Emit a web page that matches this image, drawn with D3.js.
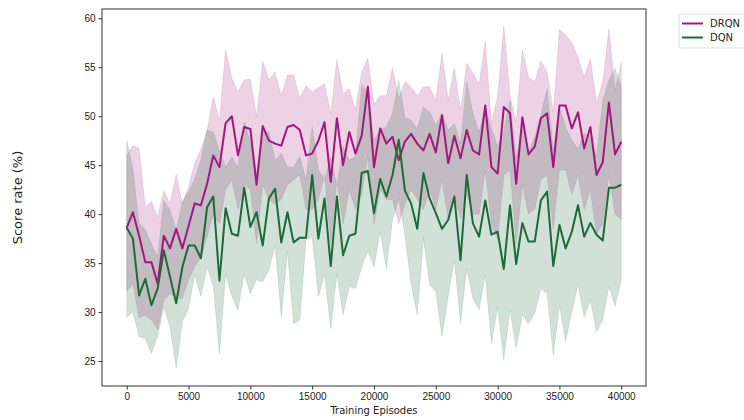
<!DOCTYPE html>
<html>
<head>
<meta charset="utf-8">
<script src="https://cdn.jsdelivr.net/npm/d3@7"></script>
<style>
	body { margin: 0; background: #fff; }
	svg { display: block; font-family: 'DejaVu Sans', sans-serif; }
</style>
</head>
<body>
<svg id="chart" width="744" height="420"></svg>
<script>
// episodes, every 500 steps
const episodes = d3.range(0, 40001, 500)

const drqnMean = [38.6, 40.2, 37.8, 35.1, 35.1, 32.9, 37.8, 36.5, 38.5, 36.5, 38.8, 41.1, 40.9, 43.1, 46.0, 44.8, 49.3, 50.0, 46.0, 48.9, 48.7, 43.0, 49.0, 47.5, 47.2, 47.0, 48.9, 49.1, 48.6, 46.0, 46.2, 47.5, 49.4, 43.3, 49.8, 45.0, 48.4, 46.2, 48.0, 53.0, 44.8, 48.75, 47.2, 47.9, 45.5, 47.4, 48.2, 47.2, 46.5, 48.2, 46.3, 50.1, 45.2, 48.0, 45.7, 48.6, 46.5, 46.1, 51.1, 44.8, 44.15, 50.95, 50.3, 43.1, 49.9, 46.1, 46.9, 49.8, 50.3, 44.8, 51.1, 51.1, 48.75, 50.4, 46.7, 48.9, 44.0, 45.3, 51.4, 46.1, 47.4]
const drqnUpper = [46.0, 47.0, 46.7, 40.7, 41.3, 39.7, 42.4, 41.1, 44.1, 41.0, 42.8, 45.2, 46.6, 48.5, 52.0, 49.6, 56.8, 53.9, 52.5, 53.7, 53.8, 49.9, 55.6, 53.7, 54.5, 52.1, 54.2, 54.2, 51.8, 53.1, 52.5, 52.9, 53.3, 50.3, 55.8, 52.3, 52.8, 50.6, 54.5, 55.9, 51.2, 52.1, 52.1, 54.9, 51.8, 53.5, 53.0, 52.1, 53.0, 53.0, 51.6, 56.4, 51.6, 54.9, 50.6, 55.4, 54.4, 53.3, 57.6, 49.3, 52.0, 59.2, 52.1, 49.4, 56.8, 54.0, 53.5, 55.7, 54.5, 50.4, 58.85, 58.3, 57.5, 56.0, 54.0, 55.9, 51.3, 53.5, 58.9, 52.6, 55.5]
const drqnLower = [32.1, 32.9, 29.4, 29.7, 29.2, 28.2, 31.2, 31.9, 31.4, 31.4, 33.3, 34.6, 35.6, 37.7, 40.0, 39.0, 42.5, 43.5, 40.5, 43.0, 42.5, 37.0, 43.0, 41.5, 41.0, 41.5, 43.0, 43.5, 44.0, 40.5, 40.5, 41.5, 44.0, 37.0, 43.5, 39.0, 42.5, 40.5, 42.0, 46.0, 39.0, 42.5, 41.5, 41.5, 39.0, 41.0, 42.5, 41.5, 40.5, 42.5, 40.5, 43.5, 39.5, 42.0, 39.5, 42.0, 40.0, 40.0, 44.5, 39.0, 37.5, 44.0, 44.5, 37.0, 43.0, 40.0, 40.5, 43.5, 44.0, 38.5, 44.5, 44.5, 42.0, 44.0, 40.5, 42.5, 38.0, 39.0, 44.0, 40.0, 39.5]

const dqnMean = [38.6, 37.5, 31.7, 33.4, 30.7, 32.4, 36.3, 33.6, 30.9, 34.6, 36.8, 36.8, 35.5, 40.7, 41.8, 33.2, 40.6, 38.0, 37.8, 42.7, 38.7, 40.2, 36.8, 41.6, 42.6, 37.1, 40.2, 37.1, 37.6, 37.6, 44.0, 37.5, 41.6, 34.7, 41.8, 35.8, 37.8, 38.0, 44.2, 44.4, 40.1, 43.6, 41.8, 44.0, 47.6, 42.4, 41.1, 38.5, 44.2, 41.6, 40.1, 38.5, 39.4, 41.8, 35.3, 44.0, 39.05, 37.7, 41.4, 37.9, 38.2, 34.4, 40.9, 34.9, 39.1, 37.2, 37.2, 41.4, 42.3, 34.7, 38.9, 36.5, 38.2, 40.9, 37.7, 39.1, 37.9, 37.3, 42.7, 42.7, 43.0]
const dqnUpper = [47.55, 44.5, 39.05, 38.4, 37.0, 35.6, 41.4, 40.4, 38.4, 41.3, 42.3, 43.6, 45.5, 48.6, 48.4, 46.5, 44.8, 45.85, 44.8, 49.4, 47.4, 44.15, 48.4, 48.4, 45.5, 46.2, 44.8, 44.8, 45.85, 43.5, 48.9, 44.5, 43.5, 45.85, 42.8, 46.9, 45.5, 45.85, 53.2, 52.5, 47.55, 48.6, 48.9, 50.3, 53.7, 49.9, 49.6, 48.75, 50.95, 50.4, 49.1, 50.3, 48.6, 49.25, 47.2, 53.5, 50.3, 48.4, 50.8, 48.75, 46.9, 48.6, 51.6, 45.7, 48.9, 46.4, 47.9, 50.1, 52.8, 46.5, 50.95, 48.9, 47.55, 46.7, 48.2, 47.9, 45.85, 51.6, 53.7, 54.9, 53.0]
const dqnLower = [29.5, 30.0, 27.5, 27.3, 25.8, 27.5, 30.5, 28.5, 24.25, 29.0, 30.4, 33.8, 31.6, 34.6, 32.6, 25.8, 33.9, 31.6, 30.2, 33.9, 31.9, 33.3, 33.1, 34.3, 36.8, 29.5, 36.2, 28.8, 29.2, 37.3, 37.7, 31.6, 33.9, 28.3, 33.9, 29.7, 32.6, 32.4, 34.6, 36.2, 34.6, 38.2, 34.4, 39.4, 41.6, 37.9, 32.9, 29.7, 37.5, 32.8, 32.1, 27.5, 31.6, 35.3, 28.8, 34.4, 31.4, 30.2, 33.8, 26.8, 30.5, 25.1, 30.2, 26.3, 29.7, 28.8, 29.9, 32.4, 31.9, 25.6, 30.7, 27.0, 30.0, 32.8, 29.5, 31.2, 28.0, 29.2, 32.6, 30.6, 33.3]

const seriesNames = ['DRQN', 'DQN']
const seriesColors = ['#a3177d', '#1b6b36']
const xTicks = d3.range(0, 40001, 5000)
const yTicks = [25, 30, 35, 40, 45, 50, 55, 60]

const series = [
	{ name: seriesNames[0], color: seriesColors[0], mean: drqnMean, upper: drqnUpper, lower: drqnLower },
	{ name: seriesNames[1], color: seriesColors[1], mean: dqnMean, upper: dqnUpper, lower: dqnLower }
]

const margin = { top: 9, right: 98, bottom: 34, left: 102 }
const width = 744 - margin.left - margin.right
const height = 420 - margin.top - margin.bottom

const svg = d3.select('#chart')
const g = svg
	.append('g')
	.attr('transform', 'translate(' + margin.left + ',' + margin.top + ')')

const x = d3.scaleLinear().domain([-2000, 42000]).range([0, width])
const y = d3.scaleLinear().domain([22.45, 60.95]).range([height, 0])

// bands first, then lines on top
series.forEach(s => {
	const area = d3
		.area()
		.x((d, i) => x(episodes[i]))
		.y0((d, i) => y(s.lower[i]))
		.y1((d, i) => y(s.upper[i]))
	g.append('path')
		.datum(s.mean)
		.attr('d', area)
		.attr('fill', s.color)
		.attr('fill-opacity', 0.2)
		.attr('stroke', s.color)
		.attr('stroke-opacity', 0.12)
		.attr('stroke-width', 1)
})

series.forEach(s => {
	const line = d3
		.line()
		.x((d, i) => x(episodes[i]))
		.y(d => y(d))
	g.append('path')
		.datum(s.mean)
		.attr('d', line)
		.attr('fill', 'none')
		.attr('stroke', s.color)
		.attr('stroke-width', 2)
		.attr('stroke-linejoin', 'round')
})

// axes
const xAxis = g
	.append('g')
	.attr('transform', 'translate(0,' + height + ')')
	.call(d3.axisBottom(x).tickValues(xTicks).tickSize(3.5).tickPadding(3).tickFormat(d3.format('d')))
const yAxis = g
	.append('g')
	.call(d3.axisLeft(y).tickValues(yTicks).tickSize(3.5).tickPadding(3))

;[xAxis, yAxis].forEach(a => {
	a.select('.domain').remove()
	a.selectAll('text').attr('font-size', 10).attr('fill', '#222')
	a.selectAll('line').attr('stroke', '#333')
})

g.append('rect')
	.attr('width', width)
	.attr('height', height)
	.attr('fill', 'none')
	.attr('stroke', '#333')
	.attr('stroke-width', 1)

svg.append('text')
	.attr('x', margin.left + width / 2)
	.attr('y', 414)
	.attr('text-anchor', 'middle')
	.attr('font-size', 10)
	.attr('fill', '#222')
	.text('Training Episodes')

svg.append('text')
	.attr('transform', 'translate(22,' + (margin.top + height / 2) + ') rotate(-90)')
	.attr('text-anchor', 'middle')
	.attr('font-size', 13)
	.attr('fill', '#222')
	.text('Score rate (%)')

// legend, sits outside the axes on the right
const legend = svg.append('g').attr('transform', 'translate(679,14)')
legend
	.append('rect')
	.attr('width', 80)
	.attr('height', 34)
	.attr('rx', 2)
	.attr('fill', '#fff')
	.attr('stroke', '#ddd')

series.forEach((s, i) => {
	const row = legend.append('g').attr('transform', 'translate(0,' + (9.5 + i * 14) + ')')
	row.append('line')
		.attr('x1', 3)
		.attr('x2', 24)
		.attr('stroke', s.color)
		.attr('stroke-width', 2)
	row.append('text')
		.attr('x', 31)
		.attr('dy', '0.35em')
		.attr('font-size', 10)
		.attr('fill', '#222')
		.text(s.name)
})
</script>
</body>
</html>
